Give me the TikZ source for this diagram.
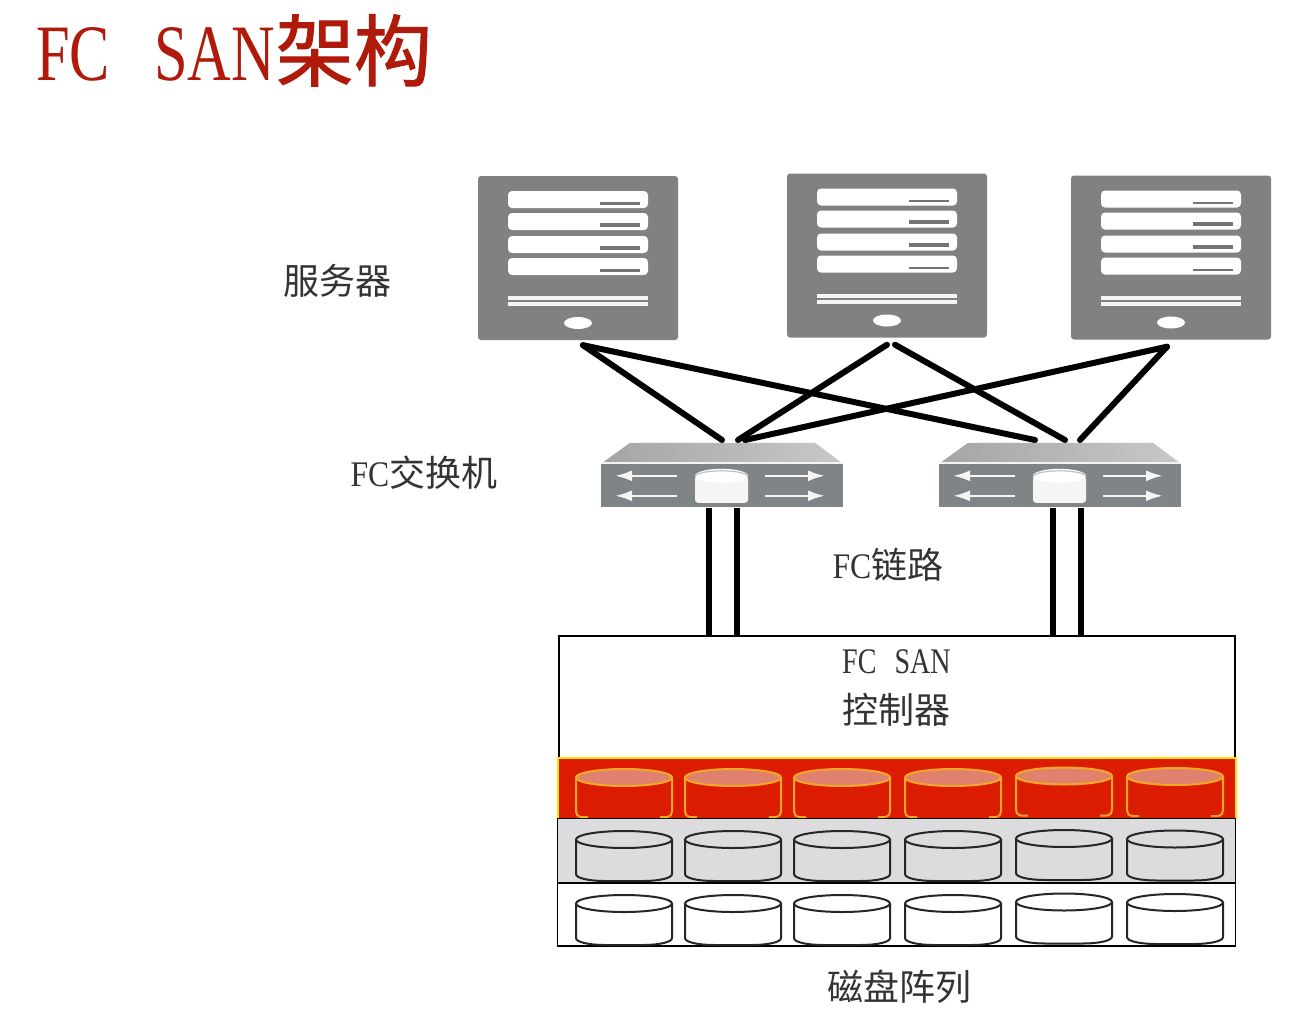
\documentclass[tikz,border=0pt]{standalone}
\usepackage{fontspec}
\setmainfont{Liberation Serif}
\newfontfamily\latn[FakeStretch=0.88]{Liberation Serif}
\newfontfamily\lats[FakeStretch=0.78]{Liberation Serif}
\newfontfamily\latt[FakeStretch=0.755]{Liberation Serif}
\newfontfamily\cjk{Noto Sans CJK SC}
\newfontfamily\cjkt[FakeBold=1.3]{Noto Sans CJK SC}
\usetikzlibrary{arrows.meta}
\definecolor{titlered}{HTML}{B01A0A}
\definecolor{srvgrey}{HTML}{808181}
\definecolor{swfront}{HTML}{7F8486}
\definecolor{swtop}{HTML}{C2C2C2}
\definecolor{rowred}{HTML}{DB1C00}
\definecolor{rowgrey}{HTML}{DCDCDE}
\definecolor{cylorange}{HTML}{F7A823}
\definecolor{cylpink}{HTML}{E0806E}
\definecolor{txt}{HTML}{333333}
\tikzset{
  x=1pt,y=-1pt,
  lbl/.style={inner sep=0pt,text=txt,font=\fontsize{36}{36}\selectfont},
  srvbody/.style={fill=srvgrey,draw=none,rounded corners=3pt,minimum width=200pt,minimum height=164pt,inner sep=0pt},
  link/.style={line width=6pt,black,line cap=round},
  uplink/.style={line width=6pt,black},
  rowbox/.style={draw=black,line width=1.6pt,inner sep=0pt,outer sep=0pt},
  cylw/.style={draw=black!85,line width=2pt,fill=white},
  cylg/.style={draw=black!85,line width=2pt,fill=rowgrey},
  swarrow/.style={white!92!swfront,line width=2.6pt,-{Latex[length=17pt,width=11pt]}},
  pics/server/.style={code={
    \foreach \yy/\tw in {15/2.2,37/3.6,60/3.6,82/2.2}{
      \fill[white,rounded corners=4pt] (-70,\yy-82) rectangle (70,\yy-65);
      \fill[srvgrey!90!black] (22,\yy-68.5-\tw) rectangle (62,\yy-68.5);
    }
    \fill[white!92!srvgrey] (-70,38) rectangle (70,42);
    \fill[white!92!srvgrey] (-70,44) rectangle (70,48);
    \fill[white] (0,65) ellipse [x radius=14,y radius=6];
  }},
  pics/switchbox/.style={code={
    \shade[left color=swtop!85!black,right color=swtop!90!white] (-121,21) -- (-92,0) -- (93,0) -- (121,21) -- cycle;
    \fill[white!80!swtop] (-121,19.5) rectangle (121,21.5);
    \fill[swfront] (-121,21.5) rectangle (121,64);
    \draw[swarrow] (-45,33) -- (-107,33);
    \draw[swarrow] (-45,53) -- (-107,53);
    \draw[swarrow] (43,33) -- (103,33);
    \draw[swarrow] (43,53) -- (103,53);
    \fill[white!92!swfront,rounded corners=3pt] (-27,33) rectangle (26,60);
    \fill[white] (-0.5,33) ellipse [x radius=26.5,y radius=7];
    \draw[swfront!50!white,line width=1.2pt] (-27,34) arc[start angle=180,end angle=360,x radius=26.5,y radius=6];
  }}
}
\newcommand{\plaincyl}[3]{% left x, top y, style
  \draw[#3] (#1,#2+8.5) -- (#1,#2+43) .. controls (#1,#2+47) and (#1+12,#2+50) .. (#1+30,#2+50)
     -- (#1+66,#2+50) .. controls (#1+84,#2+50) and (#1+96,#2+47) .. (#1+96,#2+43) -- (#1+96,#2+8.5);
  \draw[#3] (#1+48,#2+8.5) ellipse [x radius=48,y radius=8.5];
}
\newcommand{\redcyl}[2]{% left x, top y
  \draw[cylorange,line width=2pt] (#1+12,#2+48) -- (#1+5,#2+48) .. controls (#1+1,#2+47) and (#1,#2+45) .. (#1,#2+42) -- (#1,#2+8.5);
  \draw[cylorange,line width=2pt] (#1+84,#2+48) -- (#1+91,#2+48) .. controls (#1+95,#2+47) and (#1+96,#2+45) .. (#1+96,#2+42) -- (#1+96,#2+8.5);
  \draw[cylorange,line width=2pt,fill=cylpink] (#1+48,#2+8.5) ellipse [x radius=48,y radius=8.5];
}
\begin{document}
\begin{tikzpicture}
\useasboundingbox (0,0) rectangle (1296,1010);
\fill[white] (0,0) rectangle (1296,1010);
% title
\node[anchor=base west,inner sep=0pt,text=titlered] (title) at (36,80)
  {\fontsize{80}{80}\selectfont\latt FC\hspace{44pt}SAN\cjkt\hspace{1pt}\fontsize{78}{78}\selectfont 架构};
% servers
\node[srvbody] (s1) at (578,258) {};
\node[srvbody] (s2) at (887,255.5) {};
\node[srvbody] (s3) at (1171,257.5) {};
\pic at (s1.center) {server};
\pic at (s2.center) {server};
\pic at (s3.center) {server};
% switches
\node[inner sep=0pt,minimum width=242pt,minimum height=64pt] (sw1) at (722,475) {};
\node[inner sep=0pt,minimum width=242pt,minimum height=64pt] (sw2) at (1060,475) {};
\pic at (sw1.north) {switchbox};
\pic at (sw2.north) {switchbox};
% storage rows
\node[rowbox,anchor=north west,minimum width=676pt,minimum height=122pt] (ctrl) at (559,636) {};
\node[anchor=north west,fill=rowred,inner sep=0pt,outer sep=0pt,minimum width=678pt,minimum height=61pt] (rowr) at (557.5,757.5) {};
\draw[yellow!85!orange,line width=2pt] (rowr.south west) -- (rowr.north west) -- (rowr.north east) -- (rowr.south east);
\node[rowbox,fill=rowgrey,anchor=north west,minimum width=678pt,minimum height=65pt] (rowg) at (557.5,818.5) {};
\node[rowbox,fill=white,anchor=north west,minimum width=678pt,minimum height=63pt] (roww) at (557.5,883) {};
% disks
\redcyl{576}{769}\redcyl{685}{769}\redcyl{794}{769}\redcyl{905}{769}\redcyl{1016}{767.5}\redcyl{1127}{768}
\plaincyl{576}{831}{cylg}\plaincyl{685}{831}{cylg}\plaincyl{794}{831}{cylg}\plaincyl{905}{831}{cylg}\plaincyl{1016}{830}{cylg}\plaincyl{1127}{830.5}{cylg}
\plaincyl{576}{895}{cylw}\plaincyl{685}{895}{cylw}\plaincyl{794}{895}{cylw}\plaincyl{905}{895}{cylw}\plaincyl{1016}{893.5}{cylw}\plaincyl{1127}{894}{cylw}
% connector ends
\coordinate (s1p) at ([xshift=5pt,yshift=-5pt]s1.south);
\coordinate (s2a) at ([yshift=-7pt]s2.south);
\coordinate (s2b) at ([xshift=8pt,yshift=-7pt]s2.south);
\coordinate (s3p) at ([xshift=-4pt,yshift=-7pt]s3.south);
\coordinate (a1) at (722,440);
\coordinate (a2) at (738,440);
\coordinate (a3) at (745,440);
\coordinate (b1) at (1035,440);
\coordinate (b2) at (1065,440);
\coordinate (b3) at (1080,440);
\draw[link] (s1p) -- (a1);
\draw[link] (s1p) -- (b1);
\draw[link] (s2a) -- (a2);
\draw[link] (s2b) -- (b2);
\draw[link] (s3p) -- (a3);
\draw[link] (s3p) -- (b3);
\foreach \xx in {709,737,1053,1081}{
  \coordinate (t) at (\xx,508);
  \coordinate (u) at (\xx,636);
  \draw[uplink] (t) -- (u);
}
% labels
\node[lbl] (l1) at (337,281) {\cjk 服务器};
\node[lbl] (l2) at (424,473) {\latn FC\cjk 交换机};
\node[lbl] (l3) at (888,565) {\latn FC\cjk 链路};
\node[lbl] (l4) at (896.5,662) {\lats FC\hspace{18pt}SAN};
\node[lbl] (l5) at (896,710) {\cjk 控制器};
\node[lbl] (l6) at (899,987) {\cjk 磁盘阵列};
\end{tikzpicture}
\end{document}
